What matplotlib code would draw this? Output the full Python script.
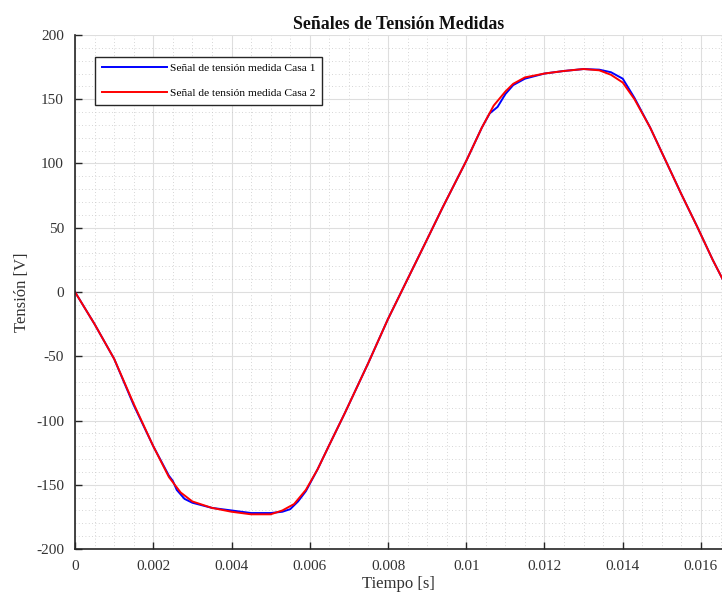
import matplotlib
matplotlib.use("Agg")
import matplotlib.pyplot as plt
from matplotlib.ticker import MultipleLocator, FixedLocator, FixedFormatter

plt.rcParams['font.family'] = ['Liberation Serif', 'DejaVu Serif']

# ---- data ----
t_casa2 = [0.0, 0.0005, 0.0010, 0.0015, 0.0020, 0.0024, 0.0027, 0.0030, 0.0035,
           0.0040, 0.0045, 0.0050, 0.0053, 0.0056, 0.0059, 0.0062, 0.0065, 0.0069,
           0.0075, 0.0080, 0.0085, 0.0090, 0.0094, 0.0100, 0.0104, 0.0107, 0.0110,
           0.0112, 0.0115, 0.0120, 0.0125, 0.0130, 0.0134, 0.0137, 0.0140, 0.0143,
           0.0147, 0.0151, 0.0155, 0.0159, 0.0163, 0.01667]
v_casa2 = [0, -25, -52, -87, -120, -144, -156, -163, -168,
           -171, -173, -173, -170, -165, -154, -138, -119, -94,
           -55, -21, 10, 41, 66, 102, 128, 145, 156,
           162, 167, 170, 172, 173.5, 172.5, 169, 163, 150,
           128, 102, 76, 51, 25, 3]

t_casa1 = [0.0, 0.0005, 0.0010, 0.0015, 0.0020, 0.0024, 0.0025, 0.0026, 0.0028,
           0.0030, 0.0035, 0.0040, 0.0045, 0.0050, 0.0053, 0.0055, 0.0057, 0.0059,
           0.0062, 0.0065, 0.0069, 0.0075, 0.0080, 0.0085, 0.0090, 0.0094, 0.0100,
           0.0104, 0.0106, 0.0108, 0.0110, 0.0112, 0.0115, 0.0120, 0.0125, 0.0130,
           0.0134, 0.0137, 0.0140, 0.0143, 0.0147, 0.0151, 0.0155, 0.0159, 0.0163,
           0.01667]
v_casa1 = [0, -25, -52, -88, -120, -143, -147, -154, -161,
           -164, -168, -170, -172, -172, -171, -169, -163, -155,
           -138, -119, -94, -55, -21, 10, 41, 66, 102,
           128, 139, 144, 154, 161, 166, 170, 172, 173.5,
           173, 171, 166, 151, 128, 102, 76, 51, 25,
           3]

x_ticks = [0, 0.002, 0.004, 0.006, 0.008, 0.010, 0.012, 0.014, 0.016]
x_tick_labels = ['0', '0.002', '0.004', '0.006', '0.008', '0.01', '0.012', '0.014', '0.016']
y_ticks = [-200, -150, -100, -50, 0, 50, 100, 150, 200]
y_tick_labels = ['-200', '-150', '-100', '-50', '0', '50', '100', '150', '200']

title = 'Señales de Tensión Medidas'
xlabel = 'Tiempo [s]'
ylabel = 'Tensión [V]'
label1 = 'Señal de tensión medida Casa 1'
label2 = 'Señal de tensión medida Casa 2'

# ---- figure ----
fig = plt.figure(figsize=(7.22, 6.01), dpi=100)
ax = fig.add_axes([0.1039, 0.0865, 0.8961, 0.8553])

ax.plot(t_casa1, v_casa1, color=(0, 0, 1), lw=1.4, label=label1)
ax.plot(t_casa2, v_casa2, color=(1, 0, 0), lw=1.4, label=label2)

ax.set_xlim(0, 0.016537)
ax.set_ylim(-200, 200)

ax.xaxis.set_major_locator(FixedLocator(x_ticks))
ax.xaxis.set_major_formatter(FixedFormatter(x_tick_labels))
ax.yaxis.set_major_locator(FixedLocator(y_ticks))
ax.yaxis.set_major_formatter(FixedFormatter(y_tick_labels))
ax.xaxis.set_minor_locator(MultipleLocator(0.0005))
ax.yaxis.set_minor_locator(MultipleLocator(10))

ax.grid(True, which='major', color='#dedede', lw=0.8, ls='-')
ax.grid(True, which='minor', color='#c8c8c8', lw=0.6, ls=(0, (1, 3)))
ax.set_axisbelow(True)

for s in ['top', 'right']:
    ax.spines[s].set_visible(False)
for s in ['left', 'bottom']:
    ax.spines[s].set_color('#262626')
    ax.spines[s].set_linewidth(1.2)

ax.tick_params(which='major', direction='in', length=5, width=1, color='#262626',
               labelsize=11, labelcolor='#333333', pad=8)
ax.tick_params(which='minor', length=0)

ax.set_title(title, fontsize=12.8, fontweight='bold', color='#111111', pad=4)
ax.set_xlabel(xlabel, fontsize=12, color='#333333', labelpad=2)
ax.set_ylabel(ylabel, fontsize=12, color='#333333', labelpad=4)

leg = ax.legend(loc='upper left', bbox_to_anchor=(0.031, 0.958), fontsize=8.25,
                frameon=True, fancybox=False, edgecolor='#262626', framealpha=1,
                handlelength=5.7, handletextpad=0.25, labelspacing=1.25,
                borderpad=0.6, borderaxespad=0)
leg.get_frame().set_linewidth(1.0)

fig.savefig('out.png', dpi=100)
